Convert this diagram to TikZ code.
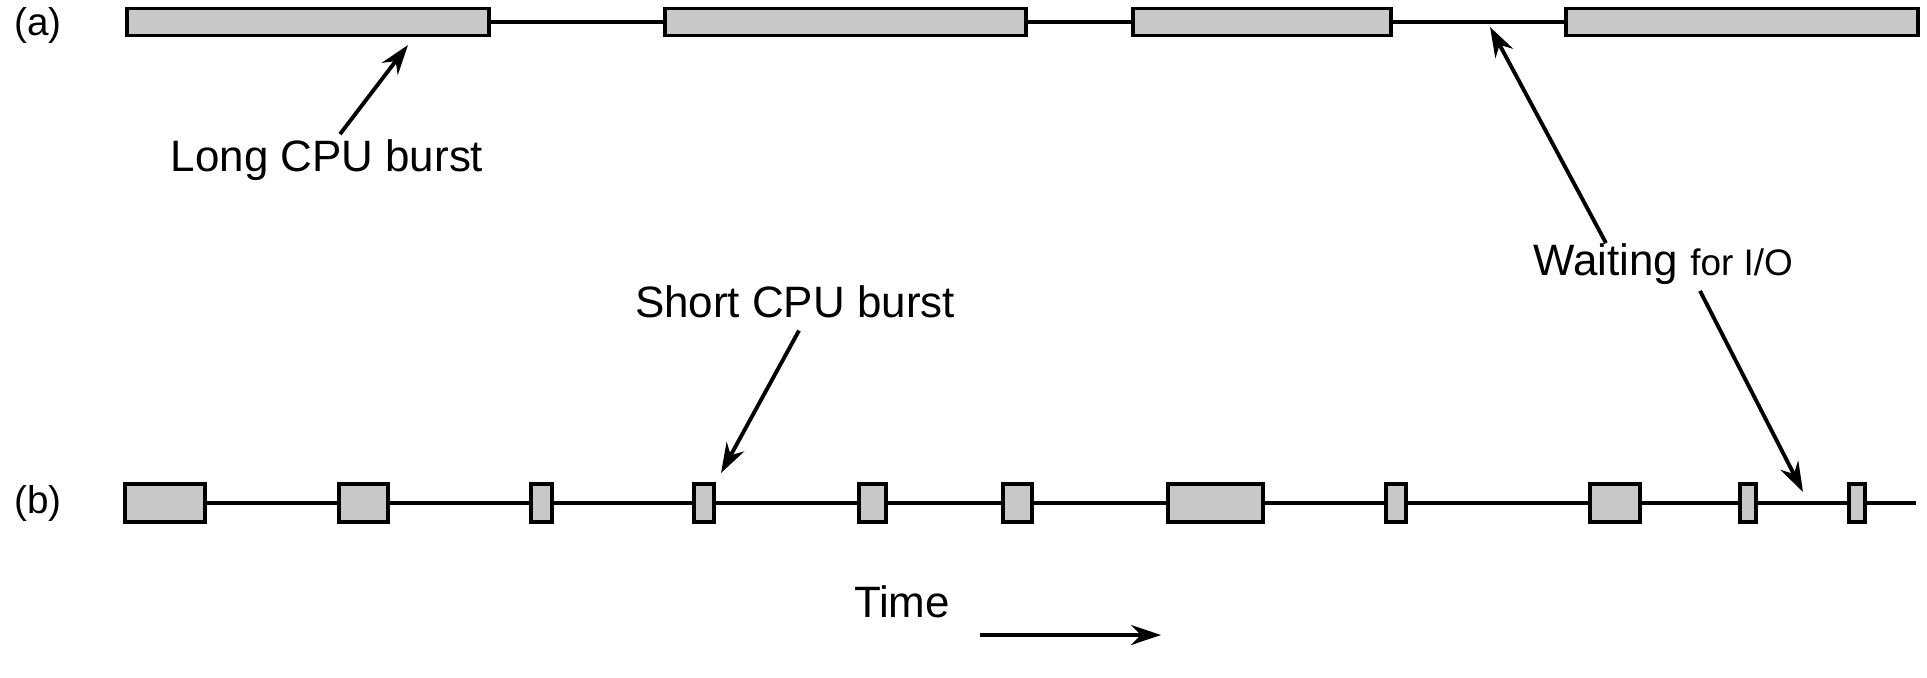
\documentclass[tikz,border=0pt]{standalone}
\usepackage{fontspec}
\setmainfont{Liberation Sans}
\usetikzlibrary{arrows.meta, positioning}
\definecolor{burstgray}{HTML}{C8C8C8}

\begin{document}
\begin{tikzpicture}[x=0.1mm, y=-0.1mm, font=\fontsize{12.5}{15}\selectfont,
     burst/.style={draw, line width=1.1pt, fill=burstgray, inner sep=0pt},
     io/.style={line width=1pt},
     ptr/.style={-{Stealth[length=3mm, width=2mm]}, line width=1.1pt}]
  \useasboundingbox (0,0) rectangle (1927,677);
  % (a) few long bursts
  \node[font=\fontsize{11}{13}\selectfont] (la) at (38,25) {(a)};
  \foreach \n/\c/\w in {1/308/362, 2/845.5/361, 3/1262/258, 4/1742/352}
    \node[burst, minimum width=\w*0.1mm, minimum height=2.7mm] (a\n) at (\c,22) {};
  \foreach \i/\k in {1/2, 2/3, 3/4}
    \draw[io] (a\i.east) -- (a\k.west);
  % (b) many short bursts
  \node[font=\fontsize{11}{13}\selectfont] (lb) at (38,503) {(b)};
  \foreach \n/\c/\w in {1/165/80, 2/363.5/49, 3/541.5/21, 4/704/20, 5/872.5/27,
      6/1017.5/29, 7/1215.5/95, 8/1396/20, 9/1615/50, 10/1748/16, 11/1857/16}
    \node[burst, minimum width=\w*0.1mm, minimum height=3.8mm] (b\n) at (\c,503) {};
  \foreach \i/\k in {1/2, 2/3, 3/4, 4/5, 5/6, 6/7, 7/8, 8/9, 9/10, 10/11}
    \draw[io] (b\i.east) -- (b\k.west);
  \coordinate (bend) at (1916,503);
  \draw[io] (b11.east) -- (bend);

  % labels
  \node (long) at (327,160) {Long CPU burst};
  \node (short) at (795,302) {Short CPU burst};
  \node (wait) at (1663,264) {Waiting {\fontsize{10.5}{12}\selectfont for I/O}};
  \node (time) at (902,602) {Time};

  \coordinate (longtip) at (408,45);
  \coordinate (waittip) at (1490,27);
  \coordinate (shorttip) at (721,473);
  \coordinate (gaptip) at (1803,492);
  \coordinate (tnow) at (980,635);

  \draw[ptr] ([shift={(13,7)}]long.north) -- (longtip);
  \draw[ptr] ([shift={(4,0)}]short.south) -- (shorttip);
  \draw[ptr] ([shift={(-57,12)}]wait.north) -- (waittip);
  \draw[ptr] ([shift={(37,-6)}]wait.south) -- (gaptip);
  \draw[ptr] (tnow) -- ++(181,0);
\end{tikzpicture}
\end{document}
